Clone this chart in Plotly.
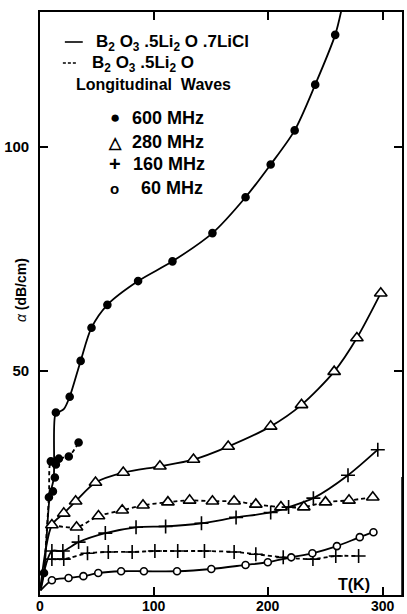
import plotly.graph_objects as go

# ---------------- data (T in K, alpha in dB/cm) ----------------
# B2O3 .5Li2O .7LiCl (solid curves)
T600_s = [3.5, 7.8, 11.3, 13.0, 13.9, 26, 35.6, 45.1, 59, 85.9, 116, 151, 180, 202, 223, 241, 258.5]
A600_s = [4.9, 21.8, 23.1, 26.2, 40.7, 44.2, 52.2, 59.6, 64.7, 70.0, 74.4, 80.7, 88.7, 96.0, 103.6, 113.8, 124.9]
T600_s_line = [0.5, 3.5, 8.5, 12.0, 13.5, 16.5, 21, 26, 35.6, 45.1, 59, 85.9, 116, 151, 180, 202, 223, 241, 258.5, 264]
A600_s_line = [1.0, 4.9, 22.0, 26.0, 40.3, 40.8, 41.5, 44.2, 52.2, 59.6, 64.7, 70.0, 74.4, 80.7, 88.7, 96.0, 103.6, 113.8, 124.9, 130.5]

T280_s = [10.4, 20.8, 31.2, 48.6, 72.9, 105, 134.4, 164.8, 202, 229, 257.6, 277.5, 298.4]
A280_s = [15.6, 18.2, 20.9, 25.1, 27.3, 28.7, 30.2, 33.1, 37.6, 42.4, 49.8, 57.3, 67.3]

T160_s = [10.4, 20.0, 33.8, 57.2, 84.1, 110, 141.4, 171.7, 202, 217.7, 239.4, 269.7, 295.8]
A160_s = [9.8, 9.8, 11.8, 13.8, 15.1, 15.3, 16.0, 17.3, 18.4, 19.6, 21.6, 26.7, 32.4]

T60_s = [10.4, 25, 38, 51, 71, 91, 120, 150, 180, 199.5, 220, 238.5, 260, 280, 292]
A60_s = [3.3, 3.8, 4.2, 4.9, 5.3, 5.3, 5.3, 5.8, 6.7, 7.3, 8.4, 9.3, 10.9, 12.9, 14.0]

# B2O3 .5Li2O (dashed curves)
T600_d = [9.5, 13.9, 16.5, 25.2, 33.8]
A600_d = [29.8, 29.1, 30.4, 30.9, 34.0]

T280_d = [32, 51.2, 72, 90.2, 112, 131, 151, 170, 189, 211, 231, 250, 270.6, 291.4]
A280_d = [15.1, 17.6, 18.9, 20.0, 20.7, 21.1, 20.9, 20.9, 20.2, 19.6, 19.6, 20.7, 21.1, 21.8]

T160_d = [10.4, 20.8, 41.6, 59.8, 80.7, 100.6, 120.6, 144, 170, 189, 213, 239, 259, 279]
A160_d = [8.0, 8.0, 9.3, 9.6, 9.6, 9.8, 9.8, 9.8, 9.6, 9.1, 8.4, 8.0, 8.7, 8.7]

# starting points of curves near the origin
T0 = [0.5]
A0_280 = [2.0]
A0_160 = [1.5]
A0_60 = [1.0]
T0_600d = [3.5, 7.8]
A0_600d = [4.9, 21.8]
T0_280d = [10.4]
A0_280d = [15.6]

x_ticks = [0, 100, 200, 300]
x_ticklabels = ["0", "100", "200", "300"]
y_ticks = [50, 100]
y_ticklabels = ["50", "100"]

W, H = 407, 614
L, R, TOP, B = 40, 3, 12, 19

def px(x):
    return (x - L) / (W - L - R)

def py(y):
    return (H - B - y) / (H - TOP - B)

fig = go.Figure()
black = "black"
LW = 1.8
FONT = "Liberation Sans, Arial, sans-serif"

def line(x, y, dash="solid"):
    fig.add_trace(go.Scatter(x=x, y=y, mode="lines",
                             line=dict(color=black, width=LW, dash=dash, shape="spline", smoothing=0.8),
                             hoverinfo="skip", showlegend=False))

def marks(x, y, symbol, size, fill):
    fig.add_trace(go.Scatter(x=x, y=y, mode="markers",
                             marker=dict(symbol=symbol, size=size, color=fill,
                                         line=dict(color=black, width=1.6)),
                             showlegend=False))

# solid curves
line(T600_s_line, A600_s_line)
line(T0 + T280_s, A0_280 + A280_s)
line(T0 + T160_s, A0_160 + A160_s)
line(T0 + T60_s, A0_60 + A60_s)
# dashed curves
line(T0_600d + T600_d, A0_600d + A600_d, dash="4px,3px")
line(T0_280d + T280_d, A0_280d + A280_d, dash="4px,3px")
line(T160_d, A160_d, dash="4px,3px")

# markers
marks(T600_s, A600_s, "circle", 7, black)
marks(T600_d, A600_d, "circle", 7, black)
marks(T280_s, A280_s, "triangle-up", 11, "white")
marks(T280_d, A280_d, "triangle-up", 11, "white")
marks(T160_s, A160_s, "cross-thin", 10, black)
marks(T160_d, A160_d, "cross-thin", 10, black)
marks(T60_s, A60_s, "circle", 7, "white")

ann = []
def text(x, y, s, size=16, anchor="left", angle=0):
    ann.append(dict(x=px(x), y=py(y), xref="paper", yref="paper", text=s, showarrow=False,
                    xanchor=anchor, yanchor="middle", textangle=angle,
                    font=dict(family=FONT, size=size, color=black)))

text(94, 43, "<b>B<sub>2</sub> O<sub>3</sub> .5Li<sub>2</sub> O .7LiCl</b>", 17)
text(90, 64, "<b>B<sub>2</sub> O<sub>3</sub> .5Li<sub>2</sub> O</b>", 17)
text(74, 85, "<b>Longitudinal  Waves</b>", 16)
text(115, 118, "●", 17, anchor="center")
text(115, 142, "<b>△</b>", 16, anchor="center")
text(115, 164, "<b>+</b>", 20, anchor="center")
text(115, 188, "<b>o</b>", 15, anchor="center")
text(130, 118, "<b>600 MHz</b>", 18)
text(130, 142, "<b>280 MHz</b>", 18)
text(132, 164, "<b>160 MHz</b>", 18)
text(140, 188, "<b>60 MHz</b>", 18)
text(356, 584, "<b>T(K)</b>", 16, anchor="center")
text(21, 290, "<i>α</i> <b>(dB/cm)</b>", 14, anchor="center", angle=-90)

# x tick labels placed just below the axis
for v, lab in zip(x_ticks, x_ticklabels):
    ann.append(dict(x=v, xref="x", y=py(597), yref="paper", text="<b>%s</b>" % lab, showarrow=False,
                    xanchor="center", yanchor="top", borderpad=0,
                    font=dict(family=FONT, size=14, color=black)))

shapes = [
    dict(type="line", xref="paper", yref="paper", x0=px(65), x1=px(83), y0=py(42), y1=py(42),
         line=dict(color=black, width=1.6)),
    dict(type="line", xref="paper", yref="paper", x0=px(63), x1=px(78), y0=py(63), y1=py(63),
         line=dict(color=black, width=1.6, dash="3px,2px")),
    dict(type="line", xref="paper", yref="paper", x0=1, x1=1, y0=0, y1=py(477),
         line=dict(color=black, width=1.5)),
]

fig.update_layout(
    width=W, height=H,
    margin=dict(l=L, r=R, t=TOP, b=B),
    paper_bgcolor="white", plot_bgcolor="white",
    annotations=ann, shapes=shapes,
    showlegend=False,
    xaxis=dict(range=[0, 317], tickvals=x_ticks, showticklabels=False,
               ticks="inside", ticklen=8, tickwidth=1.5, tickcolor=black,
               showline=True, linecolor=black, linewidth=1.6, mirror="allticks",
               showgrid=False, zeroline=False),
    yaxis=dict(range=[0, 130], tickvals=y_ticks, ticktext=["<b>%s</b>" % t for t in y_ticklabels],
               ticks="inside", ticklen=8, tickwidth=1.5, tickcolor=black,
               showline=True, linecolor=black, linewidth=1.6, mirror="ticks",
               showgrid=False, zeroline=False, ticklabelstandoff=6,
               tickfont=dict(family=FONT, size=15, color=black)),
)

fig.write_html("out.html", config={"displayModeBar": False},
               post_script="document.body.style.margin='0';document.body.style.overflow='hidden';")
